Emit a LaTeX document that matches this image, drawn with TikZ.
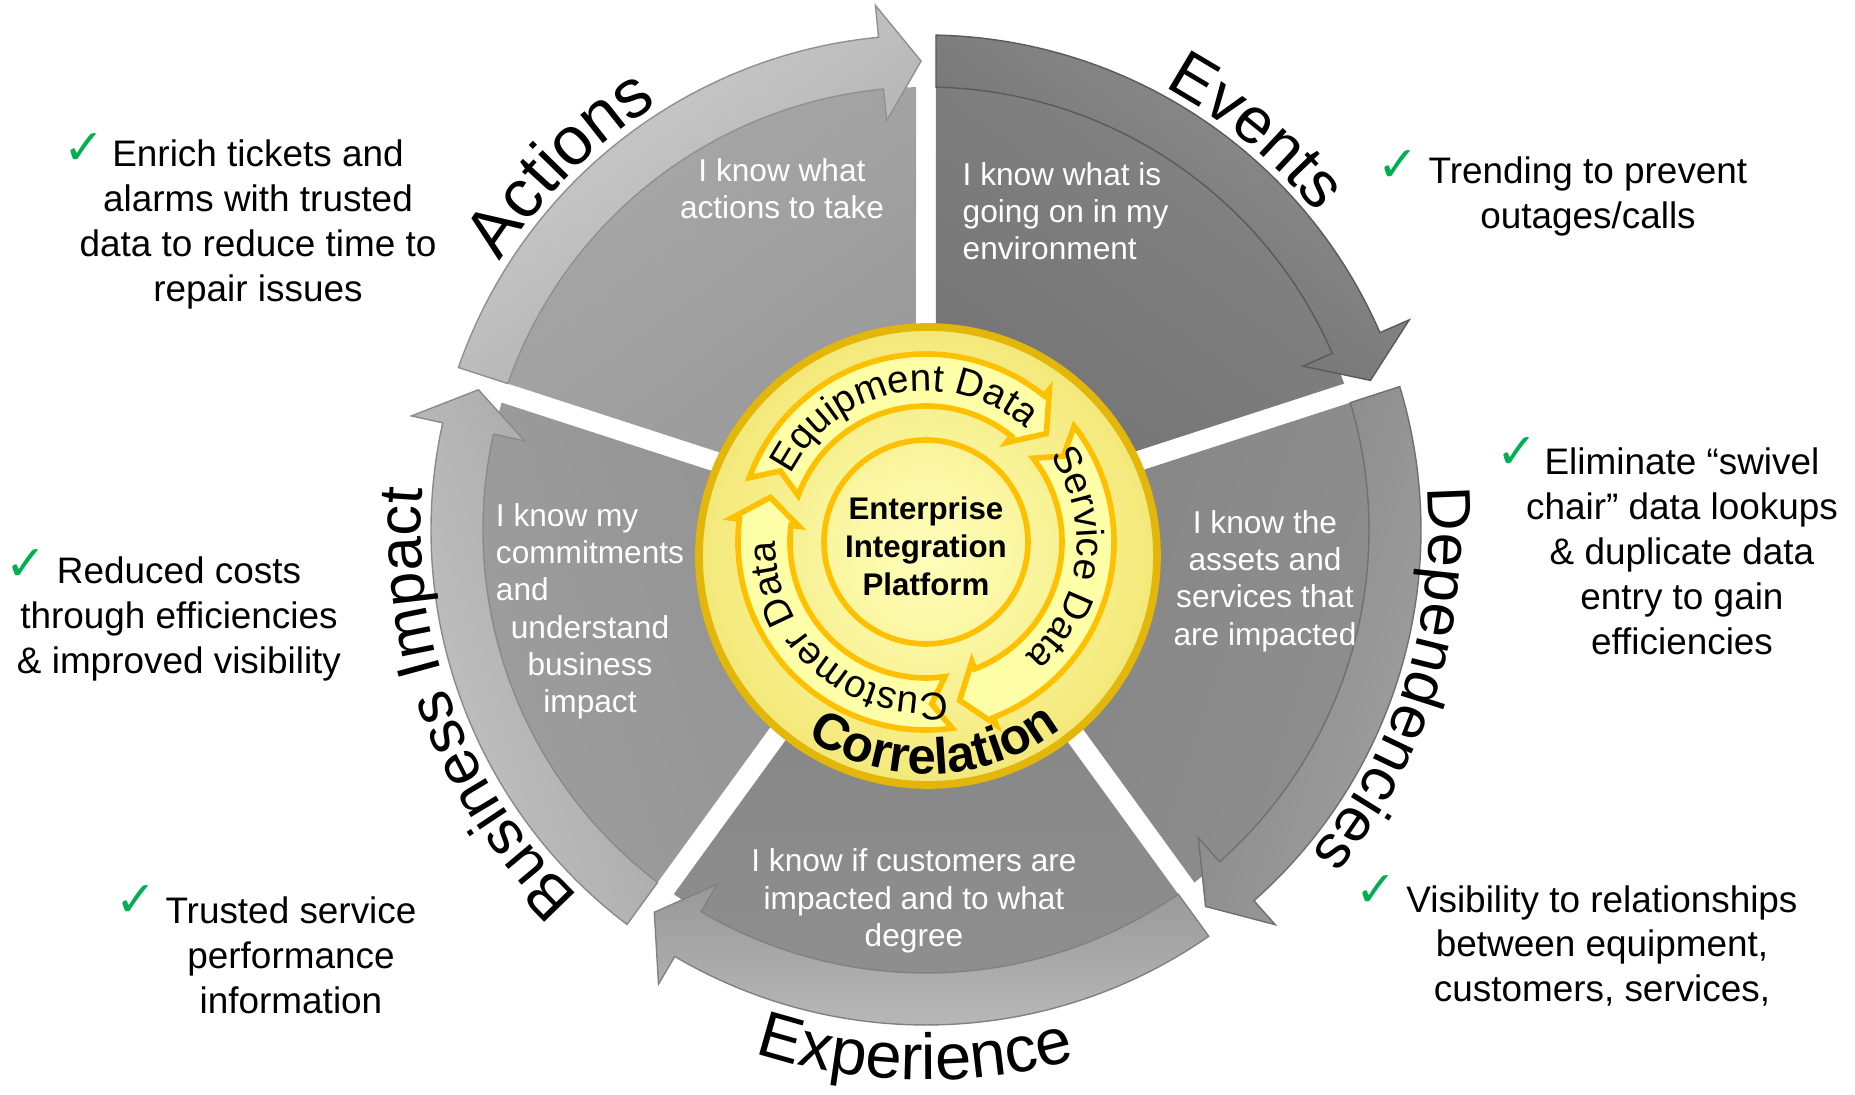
\documentclass[tikz,border=0pt]{standalone}
\usepackage{fontspec}
\setmainfont{Liberation Sans}
\newfontfamily\tickfont{DejaVu Sans}
\usepackage{tikz}
\usetikzlibrary{decorations.text}

\newcommand{\WheelOut}{4.95}
\newcommand{\WheelIn}{4.43}
\newcommand{\WheelGap}{0.2}
\newcommand{\HeadLen}{5.5}
\newcommand{\HeadWing}{0.32}
\newcommand{\DiscR}{2.29}
\newcommand{\RingOut}{1.88}
\newcommand{\RingIn}{1.36}

\definecolor{actFace}{HTML}{A8A8A8}
\definecolor{actFaceDk}{HTML}{999999}
\definecolor{actBand}{HTML}{D0D0D0}
\definecolor{actBandDk}{HTML}{A9A9A9}
\definecolor{evtFace}{HTML}{848484}
\definecolor{evtFaceDk}{HTML}{747474}
\definecolor{evtBand}{HTML}{919191}
\definecolor{evtBandDk}{HTML}{6A6A6A}
\definecolor{depFace}{HTML}{8F8F8F}
\definecolor{depFaceDk}{HTML}{858585}
\definecolor{depBand}{HTML}{A3A3A3}
\definecolor{depBandDk}{HTML}{848484}
\definecolor{expFace}{HTML}{8F8F8F}
\definecolor{expFaceDk}{HTML}{858585}
\definecolor{expBand}{HTML}{BEBEBE}
\definecolor{expBandDk}{HTML}{989898}
\definecolor{bizFace}{HTML}{9E9E9E}
\definecolor{bizFaceDk}{HTML}{929292}
\definecolor{bizBand}{HTML}{C6C6C6}
\definecolor{bizBandDk}{HTML}{A2A2A2}
\definecolor{discIn}{HTML}{FFFFBC}
\definecolor{discOut}{HTML}{F3E878}
\definecolor{discRim}{HTML}{E3B60A}
\definecolor{ringGold}{HTML}{FFC000}
\definecolor{ringFill}{HTML}{FFFFA8}
\definecolor{tickGreen}{HTML}{00B050}

\tikzset{
  facetext/.style={text=white, align=center, inner sep=0pt, font=\fontsize{9}{10.6}\selectfont},
  bullet/.style={align=center, inner sep=0pt, font=\fontsize{10.5}{12.8}\selectfont},
  tick/.style={text=tickGreen, inner sep=0pt, font=\tickfont\bfseries\fontsize{14}{14}\selectfont},
  hubtext/.style={align=center, inner sep=0pt, font=\bfseries\fontsize{8.9}{10.8}\selectfont},
  ringarrow/.style={fill=ringFill, draw=ringGold, line width=1.6pt},
  rimlabel/.style 2 args={decorate, decoration={text along path, text align=center,
      text={|\fontsize{#1}{#1}\selectfont|#2}}},
  ringlabel/.style={decorate, decoration={text along path, text align=center,
      text={|\fontsize{11}{12}\selectfont|#1}}}
}

\begin{document}
\begin{tikzpicture}
\useasboundingbox (-9.26,-5.65) rectangle (9.29,5.30);
\coordinate (W) at (0,0);% wheel centre
\coordinate (disc) at (0.02,-0.26);
\coordinate (ring) at (0,-0.12);

% five segments, each band ends in a head pointing clockwise
\foreach \hiang/\fA/\fB/\bA/\bB in {162/actFace/actFaceDk/actBand/actBandDk,
    90/evtFace/evtFaceDk/evtBand/evtBandDk, 18/depFace/depFaceDk/depBand/depBandDk,
    -54/expFace/expFaceDk/expBand/expBandDk, -126/bizFace/bizFaceDk/bizBand/bizBandDk}{
  \pgfmathsetmacro\loang{\hiang-72}
  \pgfmathsetmacro\shang{\hiang-36-90}
  \pgfmathsetmacro\aCore{asin(\WheelGap/2.6)}
  \pgfmathsetmacro\aIn{asin(\WheelGap/(2*\WheelIn))}
  \pgfmathsetmacro\aOut{asin(\WheelGap/(2*\WheelOut))}
  \pgfmathsetmacro\tipR{(\WheelIn+\WheelOut)/2}
  \shade[top color=\fA, bottom color=\fB, shading angle=\shang]
    ({\loang+\aCore}:1.3) -- ({\loang+\aIn}:\WheelIn)
    arc[start angle=\loang+\aIn, end angle=\hiang-\aIn, radius=\WheelIn]
    -- ({\hiang-\aCore}:1.3) -- cycle;% face
  \shadedraw[top color=\bA, bottom color=\bB, shading angle=\shang, draw=\bB!85!black, line width=0.4pt]
    ({\hiang-\aOut}:\WheelOut)
    arc[start angle=\hiang-\aOut, end angle=\loang+\HeadLen, radius=\WheelOut]
    -- ({\loang+\HeadLen}:{\WheelOut+\HeadWing})
    -- ({\loang+0.6}:\tipR)
    -- ({\loang+\HeadLen}:{\WheelIn-\HeadWing})
    -- ({\loang+\HeadLen}:\WheelIn)
    arc[start angle=\loang+\HeadLen, end angle=\hiang-\aIn, radius=\WheelIn]
    -- cycle;% arrow band
}

% centre disc
\shade[inner color=discIn, outer color=discOut] (disc) circle (\DiscR);
\draw[discRim, line width=2.2pt] (disc) circle (\DiscR);

\begin{scope}[shift={(ring)}]
\foreach \tailang/\headang in {160/42, 38/-78, -82/-196}{
  \filldraw[ringarrow] (\tailang:\RingOut)
    arc[start angle=\tailang, end angle=\headang+9, radius=\RingOut]
    -- ({\headang+9}:{\RingOut+0.08}) -- (\headang:{(\RingIn+\RingOut)/2})
    -- ({\headang+9}:{\RingIn-0.08}) -- ({\headang+9}:\RingIn)
    arc[start angle=\headang+9, end angle=\tailang, radius=\RingIn]
    -- ({\tailang-6}:{(\RingIn+\RingOut)/2}) -- cycle;
}
\draw[ringGold, line width=1.6pt] (0,0) circle (1.02);
\node[hubtext] (hub) at (0,-0.04) {Enterprise\\Integration\\Platform};
\path[ringlabel=Equipment Data] (171:1.51) arc[start angle=171, end angle=31, radius=1.51];
\path[ringlabel=Service Data] (63:1.51) arc[start angle=63, end angle=-77, radius=1.51];
\path[ringlabel=Customer Data] (-61:1.51) arc[start angle=-61, end angle=-201, radius=1.51];
\end{scope}

\begin{scope}[shift={(disc)}]
\path[decorate, decoration={text along path, text align=center,
    text={|\bfseries\fontsize{14.5}{16}\selectfont|Correlation}}]
  (-148:2.18) arc[start angle=-148, end angle=-28, radius=2.18];
\end{scope}

% names round the rim
\path[rimlabel={19.5}{Actions}] (175:5.03) arc[start angle=175, end angle=95, radius=5.03];
\path[rimlabel={18.5}{Events}] (90.4:5.03) arc[start angle=90.4, end angle=10.4, radius=5.03];
\path[rimlabel={17.5}{Dependencies}] (22.4:5.03) arc[start angle=22.4, end angle=-57.6, radius=5.03];
\path[rimlabel={18.5}{Experience}] (-131.2:5.5) arc[start angle=-131.2, end angle=-51.2, radius=5.5];
\path[rimlabel={17.5}{Business Impact}] (240.9:5.05) arc[start angle=240.9, end angle=160.9, radius=5.05];

% text inside the segments
\node[facetext] (actTxt) at (-1.44,3.41) {I know what\\actions to take};
\node[facetext, align=left, anchor=west] (evtTxt) at (0.36,3.19) {I know what is\\going on in my\\environment};
\node[facetext] (depTxt) at (3.39,-0.51) {I know the\\assets and\\services that\\are impacted};
\node[facetext] (expTxt) at (-0.12,-3.71) {I know if customers are\\impacted and to what\\degree};
\node[facetext] (bizTxt) at (-3.36,-0.82) {\begin{tabular}{@{}l@{}}I know my\\commitments\\and\\
  \multicolumn{1}{@{}c@{}}{understand}\\\multicolumn{1}{@{}c@{}}{business}\\\multicolumn{1}{@{}c@{}}{impact}\end{tabular}};

% benefits
\node[bullet] (enrich) at (-6.68,3.06) {Enrich tickets and\\alarms with trusted\\data to reduce time to\\repair issues};
\node[tick] (enrichTick) at (-8.42,3.81) {✓};
\node[bullet] (trend) at (6.62,3.34) {Trending to prevent\\outages/calls};
\node[tick] (trendTick) at (4.72,3.64) {✓};
\node[bullet] (swivel) at (7.56,-0.21) {Eliminate “swivel\\chair” data lookups\\\& duplicate data\\entry to gain\\efficiencies};
\node[tick] (swivelTick) at (5.91,0.77) {✓};
\node[bullet] (costs) at (-7.47,-0.89) {Reduced costs\\through efficiencies\\\& improved visibility};
\node[tick] (costsTick) at (-9.00,-0.35) {✓};
\node[bullet] (trusted) at (-6.35,-4.25) {Trusted service\\performance\\information};
\node[tick] (trustedTick) at (-7.90,-3.71) {✓};
\node[bullet] (visib) at (6.76,-4.16) {Visibility to relationships\\between equipment,\\customers, services,};
\node[tick] (visibTick) at (4.50,-3.61) {✓};
\end{tikzpicture}
\end{document}
